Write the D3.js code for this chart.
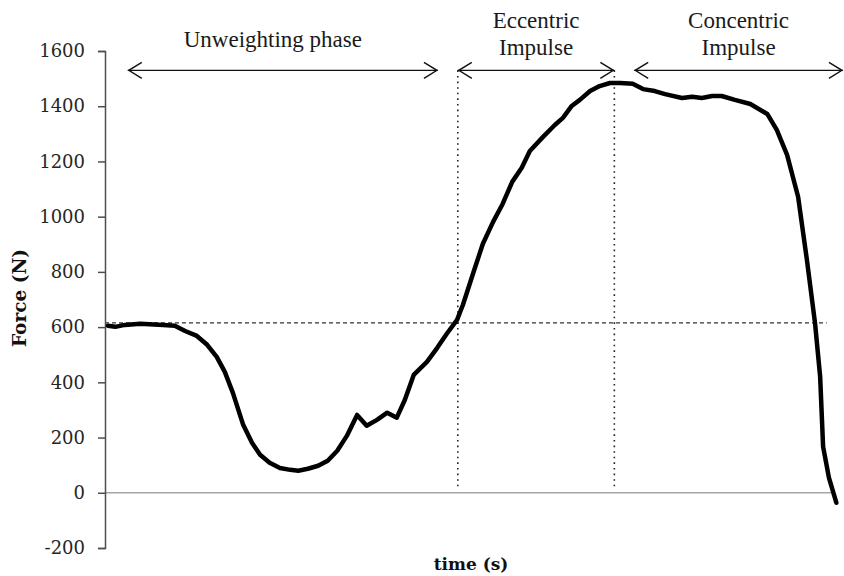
<!DOCTYPE html>
<html>
<head>
<meta charset="utf-8">
<script src="https://cdn.jsdelivr.net/npm/d3@7"></script>
<style>
  html, body { margin: 0; padding: 0; background: #fff; }
  svg { display: block; }
</style>
</head>
<body>
<svg id="chart" width="844" height="576"></svg>
<script>
// ---- data (time in s, arbitrary origin; force in N) ----
const time = [0.004,0.014,0.027,0.048,0.079,0.095,0.109,0.125,0.139,0.152,0.163,0.174,0.188,0.200,0.211,0.224,0.238,0.252,0.263,0.276,0.290,0.303,0.316,0.329,0.343,0.356,0.370,0.384,0.397,0.408,0.420,0.438,0.452,0.465,0.479,0.487,0.501,0.514,0.528,0.541,0.554,0.567,0.578,0.596,0.612,0.623,0.635,0.646,0.660,0.673,0.687,0.701,0.718,0.732,0.748,0.762,0.785,0.799,0.812,0.826,0.839,0.857,0.878,0.901,0.914,0.928,0.943,0.955,0.966,0.973,0.977,0.985,0.995];
const force = [605,601,608,612,608,605,586,568,536,492,438,362,246,181,138,109,90,83,80,87,98,116,152,206,282,243,264,290,272,337,427,474,525,576,626,681,796,901,981,1046,1126,1177,1238,1289,1332,1358,1401,1423,1455,1473,1484,1484,1481,1462,1455,1444,1430,1434,1430,1437,1437,1423,1408,1372,1314,1224,1072,843,615,420,167,54,-36];
const yTicks = [-200,0,200,400,600,800,1000,1200,1400,1600];
const bodyWeight = 615;
const bodyWeightEnd = 0.982;
const phaseBounds = [0.480, 0.693];
const phases = [
  {lines:["Unweighting phase"], from:0.031, to:0.453},
  {lines:["Eccentric","Impulse"], from:0.480, to:0.693},
  {lines:["Concentric","Impulse"], from:0.720, to:1.004}
];
const arrowForce = 1530;
const zeroLineEnd = 0.99;

// ---- layout ----
const svg = d3.select("#chart");
const x = d3.scaleLinear().domain([0, 1]).range([105, 840]);
const y = d3.scaleLinear().domain([-200, 1600]).range([548, 51]);

// zero line
svg.append("line")
  .attr("x1", x(0)).attr("x2", x(zeroLineEnd))
  .attr("y1", y(0)).attr("y2", y(0))
  .attr("stroke", "#a6a6a6").attr("stroke-width", 1.5);

// body weight dashed line
svg.append("line")
  .attr("x1", x(0)).attr("x2", x(bodyWeightEnd))
  .attr("y1", y(bodyWeight)).attr("y2", y(bodyWeight))
  .attr("stroke", "#333").attr("stroke-width", 1.2)
  .attr("stroke-dasharray", "4,3");

// phase boundary dotted lines
phaseBounds.forEach(t => {
  svg.append("line")
    .attr("x1", x(t)).attr("x2", x(t))
    .attr("y1", y(arrowForce)).attr("y2", y(10))
    .attr("stroke", "#222").attr("stroke-width", 1.6)
    .attr("stroke-dasharray", "1.6,4");
});

// axis
const axis = d3.axisLeft(y).tickValues(yTicks).tickSize(7).tickPadding(13).tickFormat(d => String(d));
const gAxis = svg.append("g").attr("transform", `translate(${x(0)},0)`).call(axis);
gAxis.select(".domain").attr("stroke", "#4d4d4d").attr("stroke-width", 1.5);
gAxis.selectAll(".tick line").attr("stroke", "#4d4d4d").attr("stroke-width", 1.5);
gAxis.selectAll(".tick text")
  .attr("fill", "#262626")
  .style("font-family", "'DejaVu Serif', serif")
  .style("font-size", "18px");

// curve
const line = d3.line().x((d, i) => x(time[i])).y(d => y(d));
svg.append("path")
  .datum(force)
  .attr("d", line)
  .attr("fill", "none")
  .attr("stroke", "#000")
  .attr("stroke-width", 4.5)
  .attr("stroke-linejoin", "round")
  .attr("stroke-linecap", "round");

// phase arrows and labels
phases.forEach(p => {
  const x1 = x(p.from), x2 = x(p.to), yy = y(arrowForce);
  svg.append("line").attr("x1", x1).attr("x2", x2).attr("y1", yy).attr("y2", yy)
    .attr("stroke", "#111").attr("stroke-width", 1.4);
  svg.append("path").attr("d", `M${x1+14},${yy-8} L${x1+1},${yy} L${x1+14},${yy+8}`)
    .attr("fill", "none").attr("stroke", "#111").attr("stroke-width", 1.4);
  svg.append("path").attr("d", `M${x2-14},${yy-8} L${x2-1},${yy} L${x2-14},${yy+8}`)
    .attr("fill", "none").attr("stroke", "#111").attr("stroke-width", 1.4);
  const cx = (x1 + x2) / 2;
  const t = svg.append("text")
    .attr("text-anchor", "middle")
    .attr("fill", "#1a1a1a")
    .style("font-family", "'Liberation Serif', 'Times New Roman', serif")
    .style("font-size", "23px");
  if (p.lines.length === 1) {
    t.append("tspan").attr("x", cx - 10).attr("y", 47).text(p.lines[0]);
  } else {
    t.append("tspan").attr("x", cx).attr("y", 28).text(p.lines[0]);
    t.append("tspan").attr("x", cx).attr("y", 55).text(p.lines[1]);
  }
});

// axis titles
svg.append("text")
  .attr("transform", `translate(26,298) rotate(-90)`)
  .attr("text-anchor", "middle")
  .attr("fill", "#111")
  .style("font-family", "'DejaVu Serif', serif")
  .style("font-weight", "bold")
  .style("font-size", "18.5px")
  .text("Force (N)");

svg.append("text")
  .attr("x", 471).attr("y", 570)
  .attr("text-anchor", "middle")
  .attr("fill", "#111")
  .style("font-family", "'DejaVu Serif', serif")
  .style("font-weight", "bold")
  .style("font-size", "17px")
  .text("time (s)");
</script>
</body>
</html>
